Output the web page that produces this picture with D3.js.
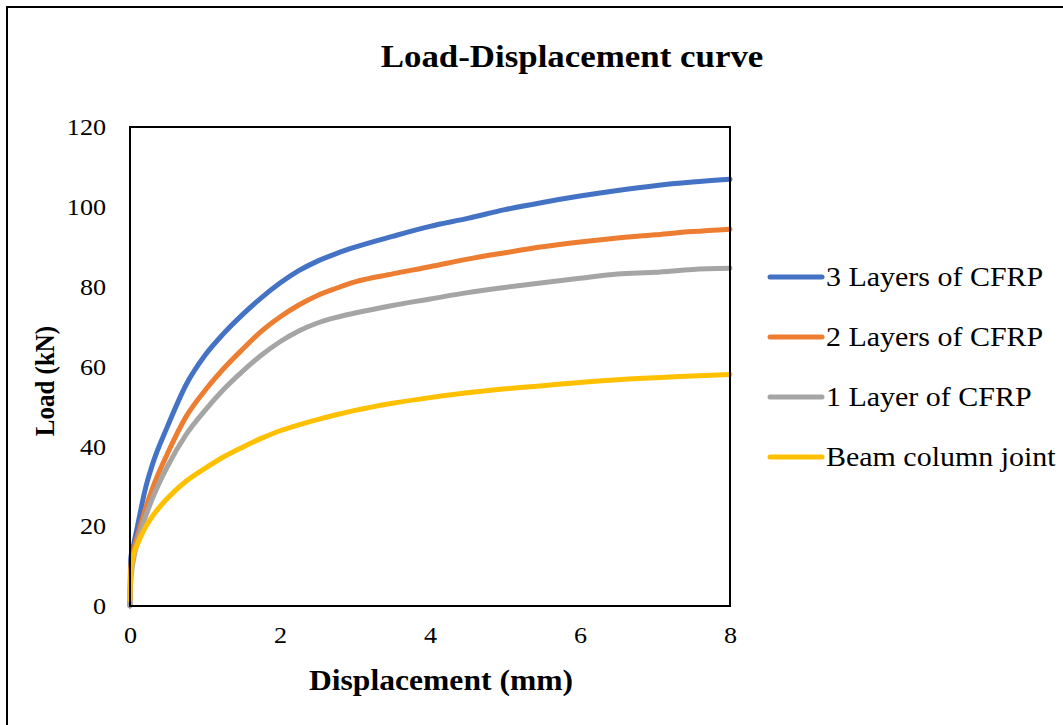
<!DOCTYPE html>
<html lang="en">
<head>
  <meta charset="UTF-8">
  <title>Load-Displacement curve</title>
  <script src="https://d3js.org/d3.v7.min.js"></script>
  <style>
    body { margin: 0; background: #fff; }
    svg { display: block; font-family: "Liberation Serif", "Times New Roman", serif; }
  </style>
</head>
<body>
  <svg width="1063" height="725"></svg>

  <script>
    const width = 1063;
    const height = 725;
    const plot = { left: 130, right: 730, top: 127, bottom: 606 };
    const stretch = 1.09; // the source text is a bit wide

    // displacement (mm) shared by all series
    const displacement = [0, 0.01, 0.05, 0.1, 0.2, 0.3, 0.5, 0.75, 1.0, 1.25, 1.5, 1.75, 2.0, 2.25, 2.5,
      2.75, 3.0, 3.5, 4.0, 4.5, 5.0, 5.5, 6.0, 6.5, 7.0, 7.5, 8.0];

    const layers3 = [0, 12, 15.5, 20, 29, 35.5, 45, 55.5, 62.8, 68.3, 73, 77.2, 80.9, 84, 86.4,
      88.3, 89.9, 92.6, 95.1, 97.1, 99.3, 101.1, 102.7, 104.1, 105.3, 106.2, 106.9];
    const layers2 = [0, 10, 14, 17.5, 24, 29.5, 38.2, 47.5, 54, 59.5, 64.3, 68.8, 72.4, 75.4, 77.8,
      79.6, 81.2, 83.2, 85, 86.9, 88.5, 90, 91.2, 92.2, 93, 93.8, 94.4];
    const layers1 = [0, 6, 12, 16, 22, 27, 35, 43, 49, 54.3, 58.8, 62.8, 66.2, 68.9, 70.9,
      72.3, 73.4, 75.3, 76.9, 78.5, 79.8, 81, 82.1, 83.2, 83.6, 84.3, 84.6];
    const joint = [1.5, 8, 13, 15.5, 19.5, 22.5, 27, 31.3, 34.5, 37.4, 39.8, 42, 43.9, 45.4, 46.7,
      47.9, 49, 50.8, 52.2, 53.4, 54.4, 55.2, 56, 56.7, 57.2, 57.6, 58];

    const seriesNames = ["3 Layers of CFRP", "2 Layers of CFRP", "1 Layer of CFRP", "Beam column joint"];
    const seriesValues = [layers3, layers2, layers1, joint];
    const colors = ["#4472C4", "#ED7D31", "#A5A5A5", "#FFC000"];

    const xTicks = [0, 2, 4, 6, 8];
    const yTicks = [0, 20, 40, 60, 80, 100, 120];

    const svg = d3.select("svg");

    // outer chart border
    svg.append("rect")
      .attr("x", 7).attr("y", 7)
      .attr("width", width + 20).attr("height", height + 20)
      .attr("fill", "#fff")
      .attr("stroke", "#000")
      .attr("stroke-width", 2);

    const xScale = d3.scaleLinear().domain([0, 8]).range([plot.left, plot.right]);
    const yScale = d3.scaleLinear().domain([0, 120]).range([plot.bottom, plot.top]);

    svg.append("text")
      .attr("transform", `translate(572,67) scale(${stretch},1)`)
      .attr("text-anchor", "middle")
      .attr("font-weight", "bold")
      .attr("font-size", 32)
      .text("Load-Displacement curve");

    const xAxis = svg.append("g")
      .attr("transform", `translate(0,${plot.bottom})`)
      .call(d3.axisBottom(xScale).tickValues(xTicks).tickSize(0).tickPadding(20));
    const yAxis = svg.append("g")
      .attr("transform", `translate(${plot.left},0)`)
      .call(d3.axisLeft(yScale).tickValues(yTicks).tickSize(0).tickPadding(22));
    [xAxis, yAxis].forEach(g => {
      g.select(".domain").remove();
      g.selectAll("text")
        .attr("font-family", "Liberation Serif, serif")
        .attr("font-size", 24)
        .attr("fill", "#000")
        .attr("transform", `scale(${stretch},1)`);
    });

    const line = d3.line()
      .x(d => xScale(d[0]))
      .y(d => yScale(d[1]))
      .curve(d3.curveMonotoneX);

    seriesValues.forEach((vals, i) => {
      svg.append("path")
        .datum(displacement.map((x, j) => [x, vals[j]]))
        .attr("d", line)
        .attr("fill", "none")
        .attr("stroke", colors[i])
        .attr("stroke-width", 5)
        .attr("stroke-linejoin", "round")
        .attr("stroke-linecap", "round");
    });

    // plot area border
    svg.append("rect")
      .attr("x", plot.left).attr("y", plot.top)
      .attr("width", plot.right - plot.left)
      .attr("height", plot.bottom - plot.top)
      .attr("fill", "none")
      .attr("stroke", "#000")
      .attr("stroke-width", 2);

    svg.append("text")
      .attr("transform", `translate(441,690) scale(${stretch},1)`)
      .attr("text-anchor", "middle")
      .attr("font-weight", "bold")
      .attr("font-size", 29)
      .text("Displacement (mm)");

    svg.append("text")
      .attr("transform", `translate(54,381) scale(${stretch},1) rotate(-90)`)
      .attr("text-anchor", "middle")
      .attr("font-weight", "bold")
      .attr("font-size", 25)
      .text("Load (kN)");

    const legend = svg.append("g").attr("transform", "translate(768,277)");
    seriesNames.forEach((name, i) => {
      const row = legend.append("g").attr("transform", `translate(0,${i * 60})`);
      row.append("line")
        .attr("x1", 2).attr("x2", 54)
        .attr("stroke", colors[i])
        .attr("stroke-width", 5)
        .attr("stroke-linecap", "round");
      row.append("text")
        .attr("transform", `translate(58,9) scale(${stretch},1)`)
        .attr("font-size", 27.5)
        .text(name);
    });
  </script>
</body>
</html>
